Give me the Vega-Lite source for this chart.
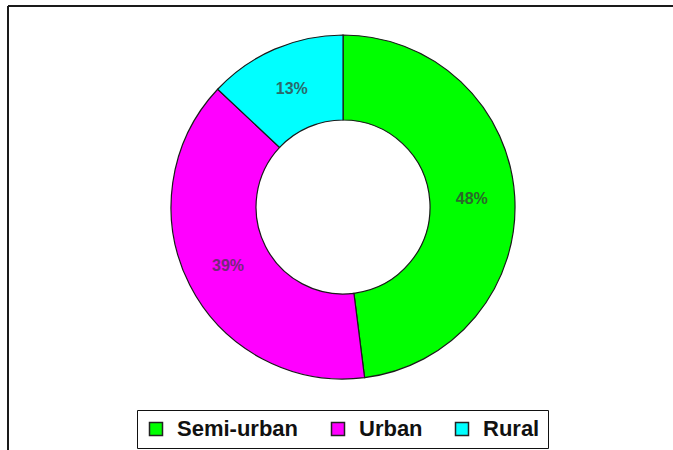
{
  "$schema": "https://vega.github.io/schema/vega-lite/v6.json",
  "autosize": {"type": "none"},
  "padding": {"left": 8, "top": 6, "right": 0, "bottom": 0},
  "width": 665,
  "height": 444,
  "background": "white",
  "config": {
    "view": {"stroke": null},
    "font": "Liberation Sans"
  },
  "layer": [
    {
      "data": {"values": [{"edge": "top"}]},
      "mark": {"type": "rule", "stroke": "#1a1a1a", "strokeWidth": 2},
      "encoding": {"y": {"value": 0}}
    },
    {
      "data": {"values": [{"edge": "left"}]},
      "mark": {"type": "rule", "stroke": "#1a1a1a", "strokeWidth": 2},
      "encoding": {"x": {"value": 0}}
    },
    {
      "data": {
        "values": [
          {"area": "Semi-urban", "share": 48, "label": "48%", "rank": 1},
          {"area": "Urban", "share": 39, "label": "39%", "rank": 2},
          {"area": "Rural", "share": 13, "label": "13%", "rank": 3}
        ]
      },
      "layer": [
        {
          "mark": {
            "type": "arc",
            "outerRadius": 172,
            "innerRadius": 87,
            "stroke": "#1a1a1a",
            "strokeWidth": 1.2,
            "x": {"expr": "width*0.5038"},
            "y": {"expr": "height*0.4527"}
          },
          "encoding": {
            "theta": {"field": "share", "type": "quantitative", "stack": true},
            "order": {"field": "rank", "type": "quantitative"},
            "color": {
              "field": "area",
              "type": "nominal",
              "scale": {"domain": ["Semi-urban", "Urban", "Rural"], "range": ["#00ff00", "#ff00ff", "#00ffff"]},
              "legend": {
                "title": null,
                "orient": "none",
                "direction": "horizontal",
                "legendX": 129,
                "legendY": 404,
                "symbolType": "square",
                "symbolSize": 169,
                "symbolStrokeColor": "#222222",
                "symbolStrokeWidth": 1.5,
                "symbolOpacity": 1,
                "labelFont": "Liberation Sans",
                "labelFontSize": 22,
                "labelFontWeight": "bold",
                "labelColor": "#111111",
                "labelOffset": 10,
                "columnPadding": 28,
                "padding": 8,
                "strokeColor": "#111111",
                "fillColor": "white"
              }
            }
          }
        },
        {
          "mark": {
            "type": "text",
            "radius": 129,
            "font": "Liberation Sans",
            "fontSize": 16,
            "fontWeight": "bold",
            "x": {"expr": "width*0.5038"},
            "y": {"expr": "height*0.4527"}
          },
          "encoding": {
            "theta": {"field": "share", "type": "quantitative", "stack": true},
            "order": {"field": "rank", "type": "quantitative"},
            "text": {"field": "label"},
            "color": {
              "field": "area",
              "type": "nominal",
              "scale": {"domain": ["Semi-urban", "Urban", "Rural"], "range": ["#2a6a2a", "#74287a", "#2a6a6a"]},
              "legend": null
            }
          }
        }
      ],
      "resolve": {"scale": {"color": "independent"}}
    }
  ],
  "resolve": {"scale": {"color": "independent"}}
}
